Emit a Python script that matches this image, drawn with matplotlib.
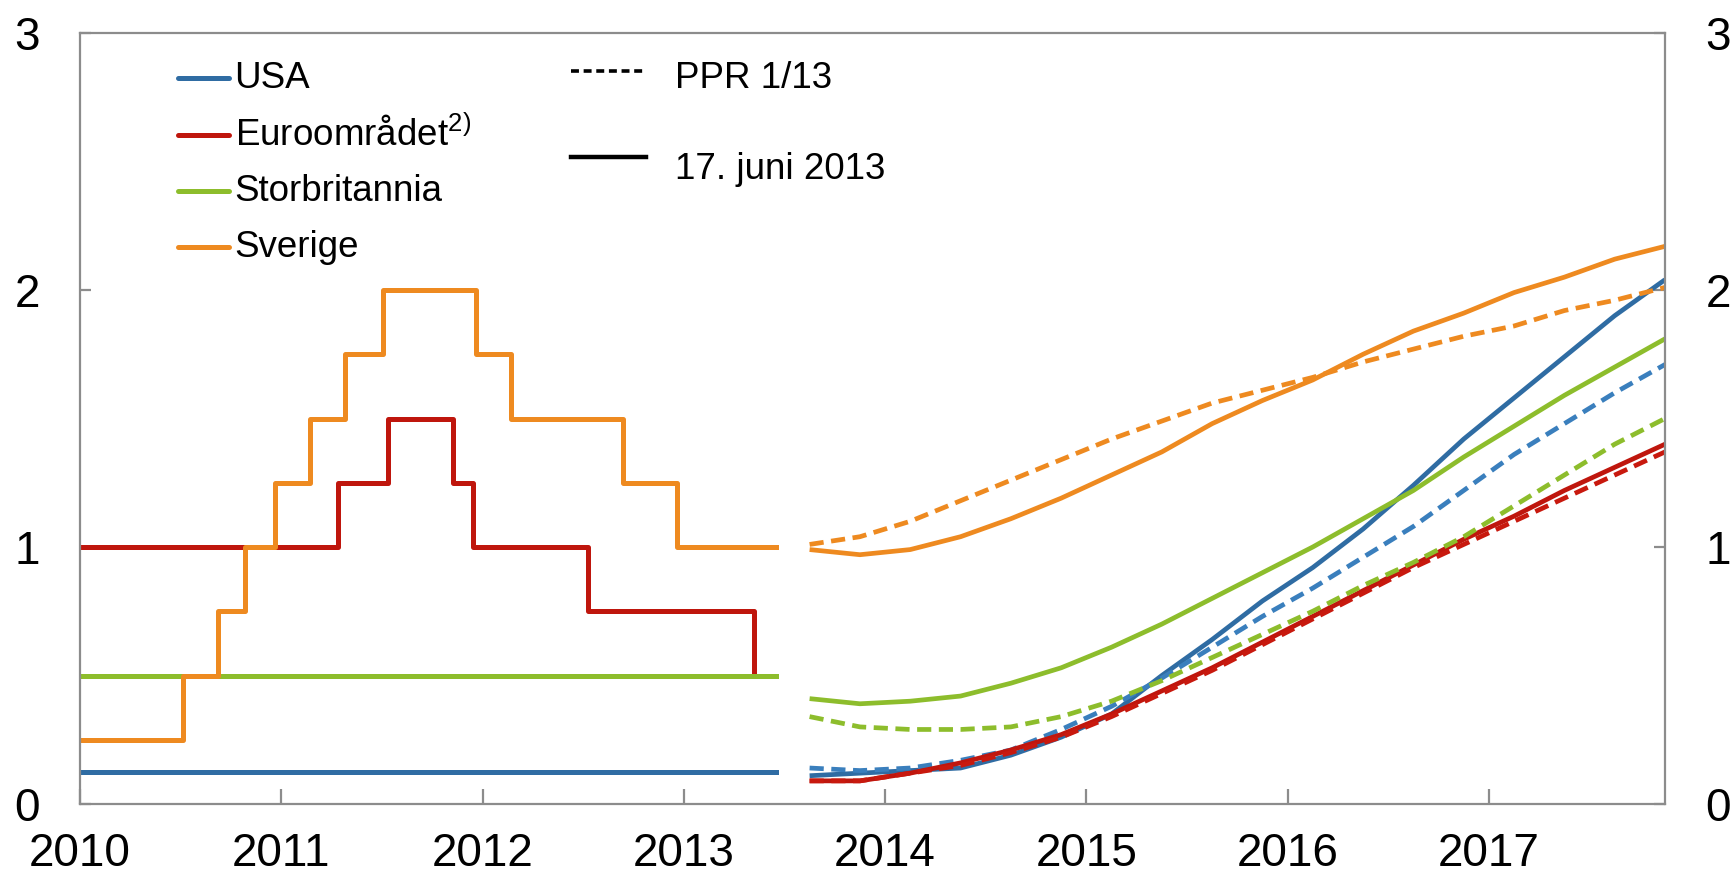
# Policy rates with forward rates: USA, euro area, UK and Sweden
import numpy as np
import pandas as pd
import matplotlib
matplotlib.use("Agg")
import matplotlib.pyplot as plt

plt.rcParams['font.family'] = ['Liberation Sans', 'DejaVu Sans']
plt.rcParams['mathtext.fontset'] = 'custom'
plt.rcParams['mathtext.rm'] = 'Liberation Sans'
plt.rcParams['mathtext.it'] = 'Liberation Sans'

# historical policy rates (change dates and new rate), ends 17 June 2013
hist_end = '2013-06-17'
usa_dates = ['2010-01-01']
usa_rates = [0.125]
uk_dates = ['2010-01-01']
uk_rates = [0.5]
euro_dates = ['2010-01-01', '2011-04-13', '2011-07-13', '2011-11-09',
              '2011-12-14', '2012-07-11', '2013-05-08']
euro_rates = [1.0, 1.25, 1.5, 1.25, 1.0, 0.75, 0.5]
swe_dates = ['2010-01-01', '2010-07-07', '2010-09-08', '2010-10-27',
             '2010-12-21', '2011-02-22', '2011-04-26', '2011-07-05',
             '2011-12-21', '2012-02-22', '2012-09-12', '2012-12-19']
swe_rates = [0.25, 0.5, 0.75, 1.0, 1.25, 1.5, 1.75, 2.0, 1.75, 1.5,
             1.25, 1.0]

# forward rates per quarter, 2013Q3 - 2017Q4
quarters = pd.period_range('2013Q3', '2017Q4', freq='Q')
usa_jun = [0.11, 0.12, 0.13, 0.14, 0.19, 0.26, 0.35, 0.50, 0.64, 0.79,
           0.92, 1.07, 1.24, 1.42, 1.58, 1.74, 1.90, 2.04]
usa_ppr = [0.14, 0.13, 0.14, 0.17, 0.21, 0.29, 0.38, 0.49, 0.61, 0.73,
           0.84, 0.96, 1.08, 1.22, 1.36, 1.48, 1.60, 1.71]
euro_jun = [0.09, 0.09, 0.12, 0.16, 0.21, 0.27, 0.35, 0.44, 0.53, 0.63,
            0.73, 0.83, 0.93, 1.03, 1.12, 1.22, 1.31, 1.40]
euro_ppr = [0.09, 0.09, 0.12, 0.15, 0.20, 0.26, 0.34, 0.43, 0.52, 0.62,
            0.72, 0.82, 0.92, 1.01, 1.10, 1.19, 1.28, 1.37]
uk_jun = [0.41, 0.39, 0.40, 0.42, 0.47, 0.53, 0.61, 0.70, 0.80, 0.90,
          1.00, 1.11, 1.22, 1.35, 1.47, 1.59, 1.70, 1.81]
uk_ppr = [0.34, 0.30, 0.29, 0.29, 0.30, 0.34, 0.40, 0.48, 0.57, 0.66,
          0.75, 0.85, 0.94, 1.04, 1.16, 1.28, 1.40, 1.50]
swe_jun = [0.99, 0.97, 0.99, 1.04, 1.11, 1.19, 1.28, 1.37, 1.48, 1.57,
           1.65, 1.75, 1.84, 1.91, 1.99, 2.05, 2.12, 2.17]
swe_ppr = [1.01, 1.04, 1.10, 1.18, 1.26, 1.34, 1.42, 1.49, 1.56, 1.61,
           1.66, 1.72, 1.77, 1.82, 1.86, 1.92, 1.96, 2.01]

names = ['USA', r'Euroområdet$^{\mathrm{2)}}$', 'Storbritannia', 'Sverige']
colors = ['#2f6ca3', '#bf160d', '#8dbd2c', '#ee8a20']
ppr_colors = ['#3a7fbd', '#c8190e', '#8dbd2c', '#ee8a20']


def dec_year(d):
    d = pd.Timestamp(d)
    days = 366 if d.is_leap_year else 365
    return d.year + (d.dayofyear - 1) / days


qx = np.array([q.year + (q.quarter - 1) / 4 + 0.125 for q in quarters])

fig = plt.figure(figsize=(17.35, 8.8), dpi=100)
ax = fig.add_axes([80 / 1735, 76 / 880, 1585 / 1735, 771 / 880])

hist = [(usa_dates, usa_rates), (euro_dates, euro_rates),
        (uk_dates, uk_rates), (swe_dates, swe_rates)]
for (dates, rates), c in zip(hist, colors):
    x = [dec_year(d) for d in dates] + [dec_year(hist_end)]
    y = list(rates) + [rates[-1]]
    ax.plot(x, y, drawstyle='steps-post', color=c, lw=3.6)

fc = [(usa_jun, usa_ppr), (euro_jun, euro_ppr), (uk_jun, uk_ppr),
      (swe_jun, swe_ppr)]
for (jun, ppr), c, cp in zip(fc, colors, ppr_colors):
    ax.plot(qx, jun, color=c, lw=3.4, solid_capstyle='butt')
    ax.plot(qx, ppr, color=cp, lw=3.4, linestyle=(0, (3, 1.6)))

ax.set_xlim(2010, 2017.875)
ax.set_ylim(0, 3)
ax.set_xticks(range(2010, 2018))
ax.set_xticklabels([str(y) for y in range(2010, 2018)])
ax.set_yticks([0, 1, 2, 3])
ax.set_yticklabels(['0', '1', '2', '3'])

for s in ax.spines.values():
    s.set_color('#8c8c8c')
    s.set_linewidth(1.6)
ax.tick_params(axis='x', direction='in', length=11, width=1.6,
               color='#8c8c8c', labelsize=33, pad=20)
ax.tick_params(axis='y', direction='in', length=8, width=1.6,
               color='#8c8c8c', labelsize=33, right=True, labelright=True,
               pad=29)

# legends drawn by hand in axes coordinates
tr = ax.transAxes
ys = [0.9416, 0.8677, 0.795, 0.7224]
for n, c, yy in zip(names, colors, ys):
    ax.plot([0.062, 0.094], [yy, yy], transform=tr, color=c, lw=3.6,
            solid_capstyle='round', clip_on=False)
    ax.text(0.0975, yy, n, transform=tr, fontsize=26.5, va='center',
            ha='left')

ax.plot([0.3098, 0.3571], [0.9507, 0.9507], transform=tr, color='black',
        lw=2.6, linestyle=(0, (2.2, 1.3)))
ax.text(0.3754, 0.941, 'PPR 1/13', transform=tr, fontsize=26.5,
        va='center', ha='left')
ax.plot([0.3098, 0.3571], [0.839, 0.839], transform=tr, color='black',
        lw=3.2)
ax.text(0.3754, 0.823, '17. juni 2013', transform=tr, fontsize=26.5,
        va='center', ha='left')

fig.savefig('out.png', dpi=100)
